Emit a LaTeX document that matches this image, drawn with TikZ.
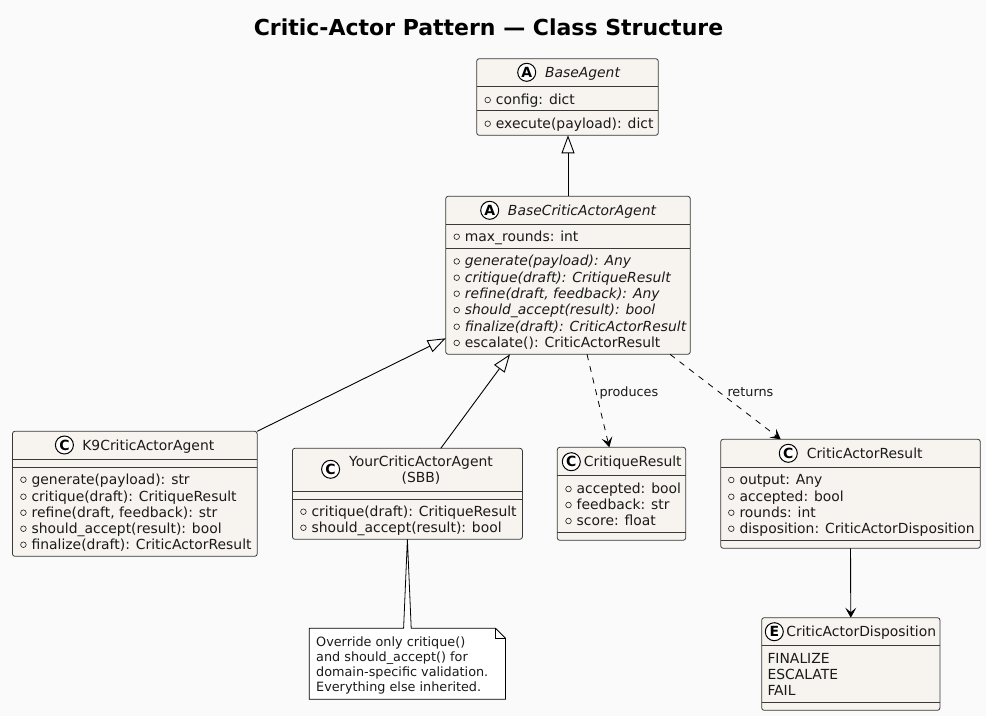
\documentclass[tikz,border=0pt]{standalone}
\usepackage{fontspec}
\setmainfont{DejaVu Sans}
\usepackage{tikz}
\usetikzlibrary{arrows.meta}

\definecolor{pagebg}{HTML}{FAFAFA}
\definecolor{boxfill}{HTML}{F7F4EF}
\definecolor{boxline}{HTML}{383838}
\definecolor{inktext}{HTML}{1A1A1A}

\tikzset{
  umlbox/.style={draw=boxline,fill=boxfill,line width=0.8pt,rounded corners=2.5pt,
    inner sep=0pt,outer sep=0pt},
  sepline/.style={draw=boxline,line width=0.8pt},
  badge/.style={circle,draw=black,fill=white,line width=1pt,minimum size=18pt,
    inner sep=0pt,font=\fontsize{14}{14}\selectfont\bfseries},
  classname/.style={anchor=base,text=inktext,inner sep=0pt,font=\fontsize{13.9}{16}\selectfont},
  memb/.style={anchor=base west,text=inktext,inner sep=0pt,font=\fontsize{13.9}{16}\selectfont},
  vis/.style={circle,draw=inktext,line width=0.6pt,minimum size=5.6pt,inner sep=0pt},
  notetext/.style={anchor=base west,text=inktext,inner sep=0pt,font=\fontsize{12.8}{15}\selectfont},
  edgelabel/.style={anchor=base west,text=inktext,inner sep=0pt,font=\fontsize{12.8}{15}\selectfont},
  inherit/.style={-{Triangle[open,length=18pt,width=13pt]},line width=0.9pt},
  depends/.style={-{Stealth[length=10pt,width=11pt,inset=4.5pt]},line width=0.8pt,dash pattern=on 6pt off 6pt},
  assoc/.style={-{Stealth[length=10pt,width=11pt,inset=4.5pt]},line width=0.9pt},
}

\newcommand{\member}[4]{%
  \node[vis] (#1v) at (#2,#3-4.3) {};
  \node[memb] (#1) at (#2+8,#3) {#4};
}
\newcommand{\seplines}[3]{%
  \draw[sepline] ([yshift=-#2pt]#1.north west) -- ([yshift=-#2pt]#1.north east);
  \draw[sepline] ([yshift=-#3pt]#1.north west) -- ([yshift=-#3pt]#1.north east);
}

\begin{document}
\begin{tikzpicture}[x=1pt,y=-1pt]

\useasboundingbox (0,0) rectangle (986,716);
\fill[pagebg] (0,0) rectangle (986,716);

\node[anchor=base,text=black,inner sep=0pt,font=\fontsize{22}{26}\selectfont\bfseries] (title) at (488.5,35)
  {Critic-Actor Pattern — Class Structure};

% boxes
\node[umlbox,minimum width=181.6pt,minimum height=76.6pt] (baseAgent) at (567.5,97) {};
\node[umlbox,minimum width=244.6pt,minimum height=158pt] (criticBase) at (568,275.3) {};
\node[umlbox,minimum width=244.8pt,minimum height=125pt] (kNine) at (134.8,493.8) {};
\node[umlbox,minimum width=230pt,minimum height=91pt] (yourAgent) at (407.4,493.8) {};
\node[umlbox,minimum width=128.4pt,minimum height=93pt] (critiqueRes) at (621.5,493.8) {};
\node[umlbox,minimum width=259.6pt,minimum height=109pt] (actorRes) at (850.5,493.8) {};
\node[umlbox,minimum width=178.3pt,minimum height=92.6pt] (disposition) at (850.8,664) {};
\node[inner sep=0pt,outer sep=0pt,minimum width=196.3pt,minimum height=71pt] (note) at (407.4,663.8) {};

\seplines{baseAgent}{27.6}{52}
\seplines{criticBase}{28}{52}
\seplines{kNine}{28}{36}
\seplines{yourAgent}{42.7}{50.7}
\seplines{critiqueRes}{28}{85}
\seplines{actorRes}{28}{101}
\seplines{disposition}{28}{84.6}

% class names
\node[badge] (baseAgentB) at (526.7,72.3) {A};
\node[classname,font=\fontsize{13.9}{16}\selectfont\itshape] (baseAgentN) at (582.5,77.3) {BaseAgent};
\node[badge] (criticBaseB) at (489.7,210.3) {A};
\node[classname,font=\fontsize{13.9}{16}\selectfont\itshape] (criticBaseN) at (582,215) {BaseCriticActorAgent};
\node[badge] (kNineB) at (64.4,445) {C};
\node[classname] (kNineN) at (148.3,450) {K9CriticActorAgent};
\node[badge] (yourAgentB) at (330.6,469.3) {C};
\node[classname] (yourAgentN) at (421,466) {YourCriticActorAgent};
\node[classname] (yourAgentS) at (421,482.7) {(SBB)};
\node[badge] (critiqueResB) at (571.3,461.7) {C};
\node[classname] (critiqueResN) at (632.8,466) {CritiqueResult};
\node[badge] (actorResB) at (788.3,453.3) {C};
\node[classname] (actorResN) at (864.7,458) {CriticActorResult};
\node[badge] (dispositionB) at (774.3,631.7) {E};
\node[classname] (dispositionN) at (861.3,636.7) {CriticActorDisposition};

% members
\member{cfg}{487.7}{104.3}{config: dict}
\member{exe}{487.7}{128}{execute(payload): dict}

\member{maxr}{456.7}{241}{max\_rounds: int}
\member{bgen}{456.7}{265.7}{\itshape generate(payload): Any}
\member{bcri}{456.7}{282}{\itshape critique(draft): CritiqueResult}
\member{bref}{456.7}{298}{\itshape refine(draft, feedback): Any}
\member{bsho}{456.7}{314.4}{\itshape should\_accept(result): bool}
\member{bfin}{456.7}{331}{\itshape finalize(draft): CriticActorResult}
\member{besc}{456.7}{347.2}{escalate(): CriticActorResult}

\member{kgen}{23.4}{484}{generate(payload): str}
\member{kcri}{23.4}{501}{critique(draft): CritiqueResult}
\member{kref}{23.4}{517}{refine(draft, feedback): str}
\member{ksho}{23.4}{533}{should\_accept(result): bool}
\member{kfin}{23.4}{549}{finalize(draft): CriticActorResult}

\member{ycri}{303.4}{516}{critique(draft): CritiqueResult}
\member{ysho}{303.4}{532}{should\_accept(result): bool}

\member{racc}{568.5}{493.3}{accepted: bool}
\member{rfee}{568.5}{509.3}{feedback: str}
\member{rsco}{568.5}{525.3}{score: float}

\member{aout}{731.3}{484.3}{output: Any}
\member{aacc}{731.3}{501}{accepted: bool}
\member{arou}{731.3}{517}{rounds: int}
\member{adis}{731.3}{533}{disposition: CriticActorDisposition}

\node[memb] (dfin) at (767.3,663.3) {FINALIZE};
\node[memb] (desc) at (767.3,679.3) {ESCALATE};
\node[memb] (dfai) at (767.3,695.3) {FAIL};

% note with its wedge
\draw[draw=black,fill=white,line width=0.8pt]
  (note.north west) -- ([xshift=-3.8pt]note.north) -- (yourAgent.south) -- ([xshift=3.8pt]note.north)
  -- ([xshift=-10pt]note.north east) -- ([yshift=-10pt]note.north east) -- (note.south east)
  -- (note.south west) -- cycle;
\draw[draw=black,line width=0.8pt] ([xshift=-10pt]note.north east) |- ([yshift=-10pt]note.north east);
\node[notetext] (noteA) at (316,646) {Override only critique()};
\node[notetext] (noteB) at (316,661) {and should\_accept() for};
\node[notetext] (noteC) at (316,676) {domain-specific validation.};
\node[notetext] (noteD) at (316,691) {Everything else inherited.};

% connectors
\draw[inherit] (criticBase.north) -- (criticBase.north |- baseAgent.south);
\draw[inherit] (kNine.north east) -- ([yshift=16pt]criticBase.south west);
\draw[inherit] ([xshift=33.4pt]yourAgent.north) -- ([xshift=-58pt]criticBase.south);
\draw[depends] ([xshift=19pt]criticBase.south) -- ([xshift=-12.2pt]critiqueRes.north);
\draw[depends] ([xshift=102pt]criticBase.south) -- ([xshift=-69.8pt]actorRes.north);
\draw[assoc] (actorRes.south) -- (disposition.north);

\node[edgelabel] (producesL) at (599.3,396.7) {produces};
\node[edgelabel] (returnsL) at (727.3,396.7) {returns};

\end{tikzpicture}
\end{document}
